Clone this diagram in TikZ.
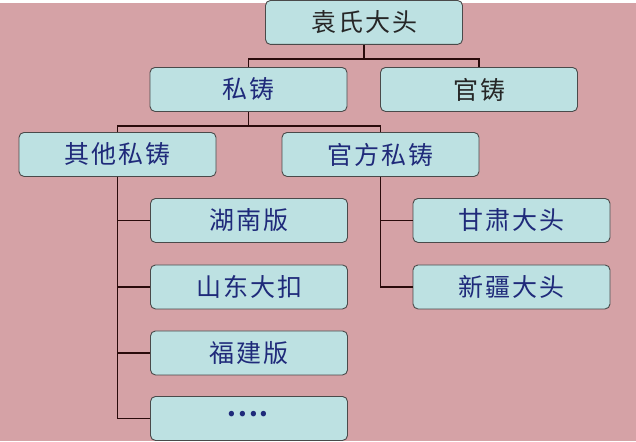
\documentclass[tikz,border=0pt]{standalone}
\usepackage{fontspec}
\newfontfamily\cjk[LetterSpace=8]{Noto Sans CJK SC}
\usetikzlibrary{positioning,calc}

\definecolor{pinkbg}{HTML}{D5A2A6}
\definecolor{boxfill}{HTML}{BDE1E2}
\definecolor{boxline}{HTML}{4A4A4A}
\definecolor{navy}{HTML}{1F2A7A}
\definecolor{linkcol}{HTML}{2A0B0B}

\begin{document}
\begin{tikzpicture}[x=1pt,y=-1pt,
    box/.style={draw=boxline, line width=0.9pt, fill=boxfill, rounded corners=5pt,
      minimum width=197pt, minimum height=44pt, inner sep=0pt,
      font=\cjk\fontsize{25}{28}\selectfont, text=navy},
    dark/.style={text=black!85},
    link/.style={draw=linkcol, line width=1.7pt}]
    % background
    \fill[pinkbg] (0,0) rectangle (636,438);
    % top levels
    \node[box, dark] (root) at (364,19) {\raisebox{-4pt}{袁氏大头}};
    \node[box] (priv) at (248.5,86) {私铸};
    \node[box, dark] (offi) at (479,86) {官铸};
    \node[box] (other) at (117.5,151) {其他私铸};
    \node[box] (govpriv) at (380.5,151) {官方私铸};
    % leaves, left branch
    \node[box] (hunan) at (249,217) {湖南版};
    \node[box] (shandong) at (249,283.5) {山东大扣};
    \node[box] (fujian) at (249,349.5) {福建版};
    \node[box] (more) at (249,415) {\raisebox{9pt}{\textbf{....}}};
    % leaves, right branch
    \node[box] (gansu) at (511.5,217) {甘肃大头};
    \node[box] (xinjiang) at (511.5,283.5) {新疆大头};
    % connectors
    \draw[link] (root.south) -- ++(0,14) coordinate (rj);
    \draw[link] (priv.north) |- (rj) -| (offi.north);
    \draw[link] (priv.south) -- ++(0,14) coordinate (pj);
    \draw[link] (other.north) |- (pj) -| (govpriv.north);
    \foreach \c in {hunan,shandong,fujian,more}
      \draw[link] (other.south) |- (\c.west);
    \foreach \c in {gansu,xinjiang}
      \draw[link] (govpriv.south) |- (\c.west);
\end{tikzpicture}
\end{document}
